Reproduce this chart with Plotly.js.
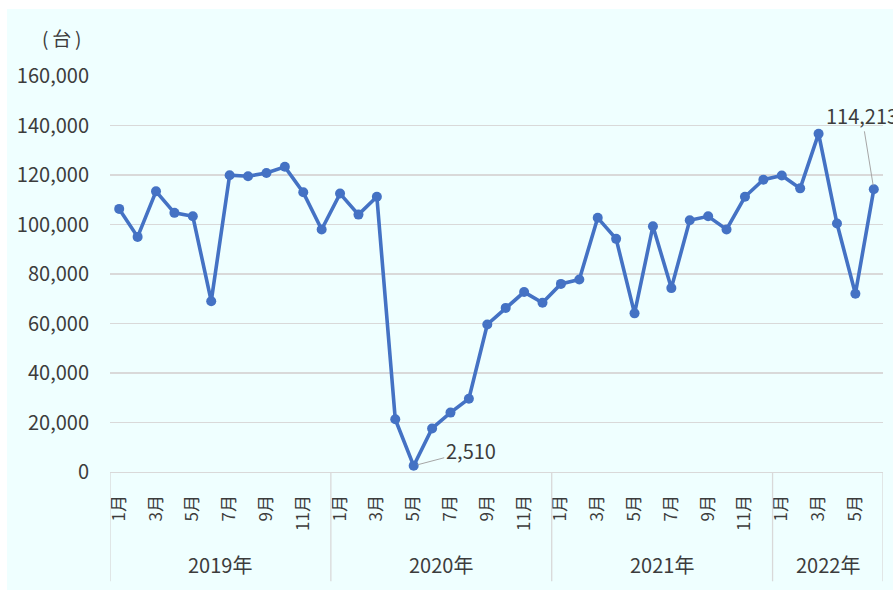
<!DOCTYPE html>
<html>
<head>
<meta charset="utf-8">
<script src="https://cdn.plot.ly/plotly-3.0.1.min.js"></script>
<style>
  html, body { margin: 0; padding: 0; background: #ffffff; width: 893px; height: 593px; overflow: hidden; }
  #chart { position: absolute; left: 7px; top: 9px; width: 886px; height: 581px; }
</style>
</head>
<body>
<div id="chart"></div>
<script>
// Monthly unit counts, Jan 2019 – Jun 2022
const yearLabels = ['2019年', '2020年', '2021年', '2022年'];
const monthsInYear = [12, 12, 12, 6];
const units = [
  106300, 95000, 113400, 104700, 103300, 69000, 119900, 119500, 120800, 123300, 113000, 98000,
  112500, 104000, 111200, 21300, 2510, 17600, 24000, 29600, 59600, 66300, 72700, 68400,
  76000, 77800, 102700, 94200, 64100, 99300, 74300, 101700, 103300, 98000, 111200, 118100,
  119800, 114600, 136700, 100400, 72000, 114213
];
const yTicks = [0, 20000, 40000, 60000, 80000, 100000, 120000, 140000, 160000];
const yTickText = ['0', '20,000', '40,000', '60,000', '80,000', '100,000', '120,000', '140,000', '160,000'];
const unitLabel = '(\u2009台\u2009)';

const FONT = '"Noto Sans CJK JP", "Noto Sans", sans-serif';
const TEXT = '#3c3c3c';
const GRID = '#d9d9d9';

// x positions and month tick labels
const xs = units.map((_, i) => i);
const monthOf = [];
monthsInYear.forEach(n => { for (let m = 1; m <= n; m++) monthOf.push(m); });
const tickvals = [], ticktext = [];
monthOf.forEach((m, i) => { if (m % 2 === 1) { tickvals.push(i); ticktext.push(m + '月'); } });

// year group separators and labels below the month labels
const shapes = [];
const annotations = [];
let start = 0;
shapes.push({ type: 'line', xref: 'x', yref: 'paper', x0: -0.5, x1: -0.5, y0: 0, y1: -0.276,
  line: { color: GRID, width: 1.3 } });
monthsInYear.forEach((n, k) => {
  const end = start + n;
  shapes.push({ type: 'line', xref: 'x', yref: 'paper', x0: end - 0.5, x1: end - 0.5, y0: 0, y1: -0.276,
    line: { color: GRID, width: 1.3 } });
  annotations.push({ xref: 'x', yref: 'paper', x: (start + end - 1) / 2, y: -0.233,
    xanchor: 'center', yanchor: 'middle',
    text: yearLabels[k], showarrow: false, font: { family: FONT, size: 20, color: TEXT } });
  start = end;
});

// unit caption above the axis
annotations.push({ xref: 'paper', yref: 'paper', x: -0.063, y: 1.097, xanchor: 'center', yanchor: 'middle',
  text: unitLabel, showarrow: false, font: { family: FONT, size: 19, color: TEXT } });

// value callouts for the low point and the latest month
const minIdx = units.indexOf(Math.min(...units));
const lastIdx = units.length - 1;
const fmt = v => v.toLocaleString('en-US');
annotations.push({ x: minIdx, y: units[minIdx], text: fmt(units[minIdx]), showarrow: true,
  ax: 57, ay: -15, arrowhead: 0, arrowwidth: 1, arrowcolor: '#a6a6a6', standoff: 4,
  font: { family: FONT, size: 20, color: TEXT } });
annotations.push({ x: lastIdx, y: units[lastIdx], text: fmt(units[lastIdx]), showarrow: true,
  ax: -12, ay: -74, arrowhead: 0, arrowwidth: 1, arrowcolor: '#a6a6a6', standoff: 4,
  font: { family: FONT, size: 20, color: TEXT } });

const trace = {
  x: xs, y: units, type: 'scatter', mode: 'lines+markers',
  line: { color: '#4472c4', width: 3.6 },
  marker: { color: '#4472c4', size: 10 },
  cliponaxis: false, hoverinfo: 'skip'
};

const layout = {
  width: 886, height: 581,
  margin: { l: 103, r: 10, t: 67, b: 118 },
  paper_bgcolor: '#efffff', plot_bgcolor: 'rgba(0,0,0,0)',
  showlegend: false,
  font: { family: FONT, color: TEXT },
  xaxis: {
    range: [-0.5, units.length - 0.5], tickmode: 'array', tickvals: tickvals, ticktext: ticktext,
    tickangle: -90, tickfont: { family: FONT, size: 17, color: TEXT },
    ticks: 'outside', ticklen: 15, tickcolor: 'rgba(0,0,0,0)',
    showgrid: false, zeroline: false, showline: true, linecolor: GRID, linewidth: 1.3
  },
  yaxis: {
    range: [0, 160000], tickmode: 'array', tickvals: yTicks, ticktext: yTickText,
    tickfont: { family: FONT, size: 20, color: TEXT },
    ticks: 'outside', ticklen: 16, tickcolor: 'rgba(0,0,0,0)',
    showgrid: true, gridcolor: GRID, gridwidth: 1.3, zeroline: false, showline: false
  },
  shapes: shapes,
  annotations: annotations
};

Plotly.newPlot('chart', [trace], layout, { staticPlot: true, displayModeBar: false });
</script>
</body>
</html>
